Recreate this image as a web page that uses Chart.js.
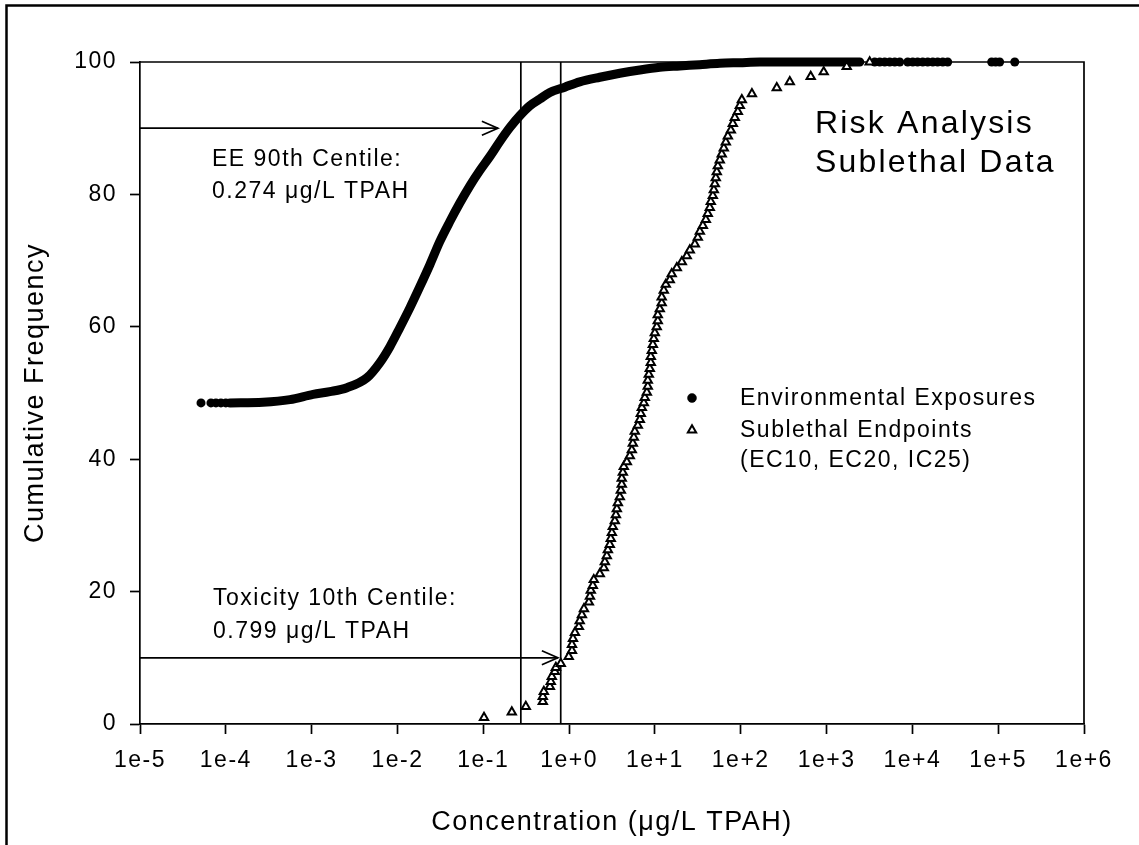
<!DOCTYPE html>
<html>
<head>
<meta charset="utf-8">
<script src="https://cdn.jsdelivr.net/npm/chart.js@4/dist/chart.umd.min.js"></script>
<style>
  html, body { margin: 0; padding: 0; background: #fff; }
  #wrap { width: 1139px; height: 845px; }
</style>
</head>
<body>
<div id="wrap"><canvas id="c" width="1139" height="845"></canvas></div>
<script>
// ---- Sublethal toxicity endpoints (EC10, EC20, IC25): concentration and cumulative frequency
const toxConc = [0.102, 0.215, 0.313, 0.494, 0.494, 0.508, 0.597, 0.612, 0.629, 0.682,
  0.701, 0.80, 0.99, 1.08, 1.08, 1.11, 1.17, 1.30, 1.33, 1.41,
  1.49, 1.70, 1.75, 1.79, 1.89, 1.94, 2.28, 2.54, 2.61, 2.75,
  2.83, 2.98, 3.06, 3.15, 3.23, 3.41, 3.51, 3.60, 3.70, 3.90,
  4.01, 4.11, 4.11, 4.23, 4.34, 4.71, 5.10, 5.38, 5.53, 5.68,
  5.83, 6.32, 6.67, 6.85, 7.04, 7.43, 7.62, 8.05, 8.26, 8.26,
  8.49, 8.72, 8.96, 8.96, 9.20, 9.46, 9.71, 9.98, 10.5, 10.8,
  10.8, 11.4, 12.0, 12.0, 12.7, 13.4, 14.9, 15.7, 18.0, 20.6,
  23.5, 25.5, 29.2, 31.6, 33.4, 36.2, 39.2, 41.3, 43.6, 44.8,
  47.3, 48.6, 49.9, 51.2, 52.6, 54.1, 57.0, 60.1, 63.5, 67.0,
  70.8, 76.7, 80.9, 85.3, 92.5, 97.6, 103, 135, 263, 373,
  654, 927, 1718, 3180];
const toxFreq = [0.98, 1.81, 2.64, 3.40, 4.15, 4.91, 5.66, 6.42, 7.17, 7.93,
  8.53, 9.13, 10.2, 11.1, 12.0, 12.9, 13.8, 14.7, 15.6, 16.5,
  17.4, 18.4, 19.3, 20.2, 20.9, 21.8, 22.7, 23.6, 24.5, 25.4,
  26.3, 27.1, 28.0, 28.9, 29.8, 30.7, 31.6, 32.5, 33.4, 34.3,
  35.3, 36.2, 37.1, 38.0, 38.9, 39.6, 40.5, 41.4, 42.4, 43.3,
  44.2, 45.1, 46.0, 46.9, 47.8, 48.5, 49.3, 50.1, 51.0, 51.9,
  52.8, 53.7, 54.6, 55.5, 56.4, 57.3, 58.2, 59.1, 60.0, 60.9,
  61.8, 62.7, 63.6, 64.5, 65.5, 66.4, 67.1, 68.0, 68.9, 69.8,
  70.7, 71.6, 72.5, 73.5, 74.4, 75.3, 76.2, 77.1, 78.0, 78.9,
  79.8, 80.7, 81.6, 82.5, 83.4, 84.3, 85.2, 86.1, 87.0, 87.9,
  88.8, 89.7, 90.7, 91.6, 92.5, 93.4, 94.3, 95.2, 96.1, 97.0,
  97.8, 98.5, 99.3, 100];

// ---- Environmental exposures: the densely sampled run of the curve
const eeRunConc = [1.12e-4, 2.71e-4, 5.58e-4, 1.04e-3, 1.63e-3, 2.58e-3, 4.41e-3, 6.25e-3, 8.17e-3, 0.0107,
  0.0140, 0.0183, 0.0239, 0.0312, 0.0408, 0.0533, 0.0698, 0.0912, 0.119, 0.156,
  0.204, 0.267, 0.349, 0.456, 0.597, 0.891, 1.33, 2.28, 3.90, 6.67,
  11.4, 19.5, 33.3, 57.0, 97.5, 167, 285, 488, 834, 1500, 2440];
const eeRunFreq = [48.5, 48.6, 49.0, 49.8, 50.2, 50.8, 52.3, 54.6, 57.0, 59.9,
  62.9, 66.1, 69.4, 72.9, 75.9, 78.7, 81.3, 83.6, 85.7, 88.0,
  90.1, 91.9, 93.4, 94.4, 95.4, 96.2, 97.0, 97.7, 98.3, 98.8,
  99.2, 99.4, 99.6, 99.8, 99.9, 100, 100, 100, 100, 100, 100];
// ---- Environmental exposures: isolated observations at both ends
const eeSparseConc = [5.14e-5, 6.71e-5, 7.67e-5, 8.77e-5, 1.0e-4,
  3640, 4170, 4760, 5450, 6230, 7120, 8830, 10100, 11500, 13200,
  15100, 17300, 19700, 22600, 25800, 84000, 93500, 104000, 156000];
const eeSparseFreq = [48.5, 48.5, 48.5, 48.5, 48.5,
  100, 100, 100, 100, 100, 100, 100, 100, 100, 100,
  100, 100, 100, 100, 100, 100, 100, 100, 100];

// ---- Axes
const xTickValues = [1e-5, 1e-4, 1e-3, 1e-2, 1e-1, 1e0, 1e1, 1e2, 1e3, 1e4, 1e5, 1e6];
const xTickLabels = ['1e-5', '1e-4', '1e-3', '1e-2', '1e-1', '1e+0', '1e+1', '1e+2', '1e+3', '1e+4', '1e+5', '1e+6'];
const yTickValues = [0, 20, 40, 60, 80, 100];

// ---- Centile markers
const centileConc = [0.274, 0.799];        // vertical guide lines
const arrowLevels = [90, 10];              // cumulative frequency of each arrow
const arrowTipConc = [0.148, 0.740];       // where each arrow stops

const FONT = '"Liberation Sans", Arial, Helvetica, sans-serif';
const SPACING = '1.5px';

function pts(xs, ys) { return xs.map((x, i) => ({ x: x, y: ys[i] })); }

const decorations = {
  id: 'decorations',
  beforeUpdate(chart) { chart.ctx.letterSpacing = SPACING; },
  beforeDraw(chart) {
    const ctx = chart.ctx;
    ctx.letterSpacing = SPACING;
    ctx.save();
    ctx.fillStyle = '#fff';
    ctx.fillRect(0, 0, chart.width, chart.height);
    // outer frame
    ctx.strokeStyle = '#000';
    ctx.lineWidth = 2.5;
    ctx.strokeRect(6.5, 5.5, chart.width + 20, chart.height + 20);
    ctx.restore();
  },
  beforeDatasetsDraw(chart) {
    const ctx = chart.ctx;
    const xs = chart.scales.x, ys = chart.scales.y;
    const a = chart.chartArea;
    ctx.save();
    ctx.strokeStyle = '#000';
    ctx.lineWidth = 1.7;
    // plot frame (top and right)
    ctx.beginPath();
    ctx.moveTo(a.left, a.top); ctx.lineTo(a.right, a.top); ctx.lineTo(a.right, a.bottom);
    ctx.stroke();
    // centile guide lines
    centileConc.forEach(v => {
      const px = xs.getPixelForValue(v);
      ctx.beginPath(); ctx.moveTo(px, ys.getPixelForValue(0)); ctx.lineTo(px, ys.getPixelForValue(100)); ctx.stroke();
    });
    // arrows
    arrowLevels.forEach((lvl, i) => {
      const py = ys.getPixelForValue(lvl);
      const tip = xs.getPixelForValue(arrowTipConc[i]);
      ctx.beginPath(); ctx.moveTo(a.left, py); ctx.lineTo(tip, py); ctx.stroke();
      ctx.beginPath();
      ctx.moveTo(tip - 16, py - 7); ctx.lineTo(tip, py); ctx.lineTo(tip - 16, py + 7);
      ctx.stroke();
    });
    ctx.restore();
  },
  afterDraw(chart) {
    const ctx = chart.ctx;
    const a = chart.chartArea;
    ctx.save();
    ctx.fillStyle = '#000';
    ctx.textAlign = 'left';
    ctx.textBaseline = 'alphabetic';
    ctx.letterSpacing = SPACING;
    ctx.font = '23px ' + FONT;
    const L = a.left;
    ctx.fillText('EE 90th Centile:', L + 72, 166);
    ctx.fillText('0.274 \u03BCg/L TPAH', L + 72, 198);
    ctx.fillText('Toxicity 10th Centile:', L + 73, 605);
    ctx.fillText('0.799 \u03BCg/L TPAH', L + 73, 638);
    // legend
    ctx.fillText('Environmental Exposures', 740, 405);
    ctx.fillText('Sublethal Endpoints', 740, 437);
    ctx.fillText('(EC10, EC20, IC25)', 740, 467);
    const drawPoint = Chart.helpers && Chart.helpers.drawPoint;
    if (drawPoint) {
      ctx.fillStyle = '#000'; ctx.strokeStyle = '#000'; ctx.lineWidth = 0.5;
      drawPoint(ctx, { pointStyle: 'circle', radius: 4.5, rotation: 0, borderWidth: 0.5 }, 692, 398);
      ctx.fillStyle = '#fff'; ctx.lineWidth = 2;
      drawPoint(ctx, { pointStyle: 'triangle', radius: 4.8, rotation: 0, borderWidth: 2 }, 692, 430);
    }
    // title block
    ctx.fillStyle = '#000';
    ctx.font = '32px ' + FONT;
    ctx.letterSpacing = '2.2px';
    ctx.fillText('Risk Analysis', 815, 133);
    ctx.fillText('Sublethal Data', 815, 172);
    ctx.restore();
  }
};

new Chart(document.getElementById('c'), {
  type: 'scatter',
  data: {
    datasets: [
      {
        label: 'Sublethal Endpoints (EC10, EC20, IC25)',
        data: pts(toxConc, toxFreq),
        pointStyle: 'triangle', pointRadius: 4.8, pointBorderWidth: 2,
        pointBorderColor: '#000', pointBackgroundColor: '#fff',
        radius: 4.8, borderWidth: 2, borderColor: '#000', backgroundColor: '#fff',
        showLine: false, clip: false
      },
      {
        label: 'Environmental Exposures',
        data: pts(eeSparseConc, eeSparseFreq),
        pointStyle: 'circle', pointRadius: 4.5, pointBorderWidth: 0,
        pointBackgroundColor: '#000', pointBorderColor: '#000',
        showLine: false, clip: false
      },
      {
        label: 'Environmental Exposures',
        data: pts(eeRunConc, eeRunFreq),
        showLine: true, borderColor: '#000', borderWidth: 9,
        borderCapStyle: 'round', borderJoinStyle: 'round',
        cubicInterpolationMode: 'monotone',
        pointRadius: 0, clip: false
      }
    ]
  },
  options: {
    responsive: false,
    animation: false,
    devicePixelRatio: 1,
    layout: { padding: { left: 0, right: 55, top: 62, bottom: 0 } },
    plugins: { legend: { display: false }, tooltip: { enabled: false } },
    scales: {
      x: {
        type: 'logarithmic', position: 'bottom', min: 1e-5, max: 1e6,
        afterBuildTicks: s => { s.ticks = xTickValues.map(v => ({ value: v })); },
        afterFit: s => { s.height = 121; },
        ticks: {
          autoSkip: false, maxRotation: 0, color: '#000', padding: 13,
          font: { family: FONT, size: 23 },
          callback: (v, i) => xTickLabels[i]
        },
        grid: { drawOnChartArea: false, drawTicks: true, tickLength: 10, tickColor: '#000', tickWidth: 1.7 },
        border: { display: true, color: '#000', width: 1.7 },
        title: { display: true, text: 'Concentration (\u03BCg/L TPAH)', color: '#000',
                 font: { family: FONT, size: 27 }, padding: { top: 0, bottom: 6 } }
      },
      y: {
        min: 0, max: 100,
        afterBuildTicks: s => { s.ticks = yTickValues.map(v => ({ value: v })); },
        afterFit: s => { s.width = 140; },
        ticks: { color: '#000', padding: 13, font: { family: FONT, size: 23 } },
        grid: { drawOnChartArea: false, drawTicks: true, tickLength: 10, tickColor: '#000', tickWidth: 1.7 },
        border: { display: true, color: '#000', width: 1.7 },
        title: { display: true, text: 'Cumulative Frequency', color: '#000',
                 font: { family: FONT, size: 27 }, padding: { top: 19, bottom: 0 } }
      }
    }
  },
  plugins: [decorations]
});
</script>
</body>
</html>
